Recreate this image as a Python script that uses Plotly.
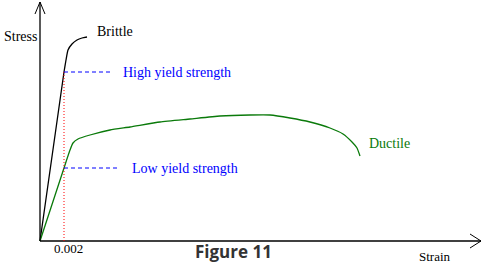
import plotly.graph_objects as go

# --- data (strain, stress in arbitrary MPa-like units) ---
brittle_strain = [0, 0.002, 0.002167, 0.002333, 0.002667, 0.003083, 0.0035, 0.003917]
brittle_stress = [0, 845, 905, 955, 985, 1005, 1015, 1020]

ductile_strain = [0, 0.002, 0.0025, 0.00275, 0.003167, 0.004167, 0.005833, 0.0075, 0.01,
                  0.0125, 0.015, 0.0175, 0.01917, 0.020833, 0.0225, 0.024167, 0.02525,
                  0.026, 0.026417, 0.026667]
ductile_stress = [0, 365, 455, 490, 510, 530, 555, 570, 595, 610, 625, 630, 630, 615, 595,
                  565, 535, 495, 465, 425]

yield_strain = 0.002
high_yield = 845
low_yield = 365
tick_label = "0.002"

# axis extents
k = 0.002 / 24.0      # strain per pixel
s = 5.0               # stress per pixel
x_range = [-40 * k, 443 * k]
y_range = [-26 * s, 241 * s]
x_end = 441 * k
y_end = 239 * s

fig = go.Figure()
fig.add_trace(go.Scatter(x=brittle_strain, y=brittle_stress, mode="lines",
                         line=dict(color="black", width=1.3, shape="spline", smoothing=0.5),
                         hoverinfo="skip"))
fig.add_trace(go.Scatter(x=ductile_strain, y=ductile_stress, mode="lines",
                         line=dict(color="#0a7a0a", width=1.3, shape="spline", smoothing=0.5),
                         hoverinfo="skip"))

shapes = []
# axes
shapes.append(dict(type="line", x0=0, y0=0, x1=0, y1=y_end, line=dict(color="black", width=1.3)))
shapes.append(dict(type="line", x0=0, y0=0, x1=x_end, y1=0, line=dict(color="black", width=1.3)))
# arrowheads
shapes.append(dict(type="line", x0=-5 * k, y0=y_end - 12 * s, x1=0, y1=y_end, line=dict(color="black", width=1)))
shapes.append(dict(type="line", x0=5 * k, y0=y_end - 12 * s, x1=0, y1=y_end, line=dict(color="black", width=1)))
shapes.append(dict(type="line", x0=x_end - 11 * k, y0=7 * s, x1=x_end, y1=0, line=dict(color="black", width=1)))
shapes.append(dict(type="line", x0=x_end - 11 * k, y0=-7 * s, x1=x_end, y1=0, line=dict(color="black", width=1)))
# yield markers
shapes.append(dict(type="line", x0=yield_strain, y0=0, x1=yield_strain, y1=high_yield,
                   line=dict(color="red", width=1, dash="1px,2px")))
shapes.append(dict(type="line", x0=yield_strain, y0=high_yield, x1=0.005833, y1=high_yield,
                   line=dict(color="blue", width=1, dash="4px,3px")))
shapes.append(dict(type="line", x0=yield_strain, y0=low_yield, x1=0.0065, y1=low_yield,
                   line=dict(color="blue", width=1, dash="4px,3px")))

serif = "Liberation Serif, Times New Roman, serif"
ann = [
    dict(x=0.00625, y=1050, text="Brittle", font=dict(family=serif, size=14, color="black"), xanchor="center"),
    dict(x=0.00675, y=high_yield, text="High yield strength", font=dict(family=serif, size=14, color="blue"), xanchor="left"),
    dict(x=0.0075, y=low_yield, text="Low yield strength", font=dict(family=serif, size=14, color="blue"), xanchor="left"),
    dict(x=0.02725, y=490, text="Ductile", font=dict(family=serif, size=14, color="#0a7a0a"), xanchor="left"),
    dict(x=-38 * k, y=1025, text="Stress", font=dict(family=serif, size=14, color="black"), xanchor="left"),
    dict(x=yield_strain + 4 * k, y=-35, text=tick_label, font=dict(family=serif, size=13, color="black"), xanchor="center"),
    dict(x=395 * k, y=-75, text="Strain", font=dict(family=serif, size=13, color="black"), xanchor="center"),
    dict(x=193 * k, y=-50, text="<b>Figure 11</b>", font=dict(family="Open Sans, sans-serif", size=17, color="#333333"), xanchor="center"),
]
for a in ann:
    a.update(showarrow=False, yanchor="middle", xref="x", yref="y")

fig.update_layout(
    width=483, height=267,
    margin=dict(l=0, r=0, t=0, b=0),
    paper_bgcolor="white", plot_bgcolor="white",
    showlegend=False,
    xaxis=dict(range=x_range, visible=False, fixedrange=True),
    yaxis=dict(range=y_range, visible=False, fixedrange=True),
    shapes=shapes, annotations=ann,
)
fig.write_html("out.html")
